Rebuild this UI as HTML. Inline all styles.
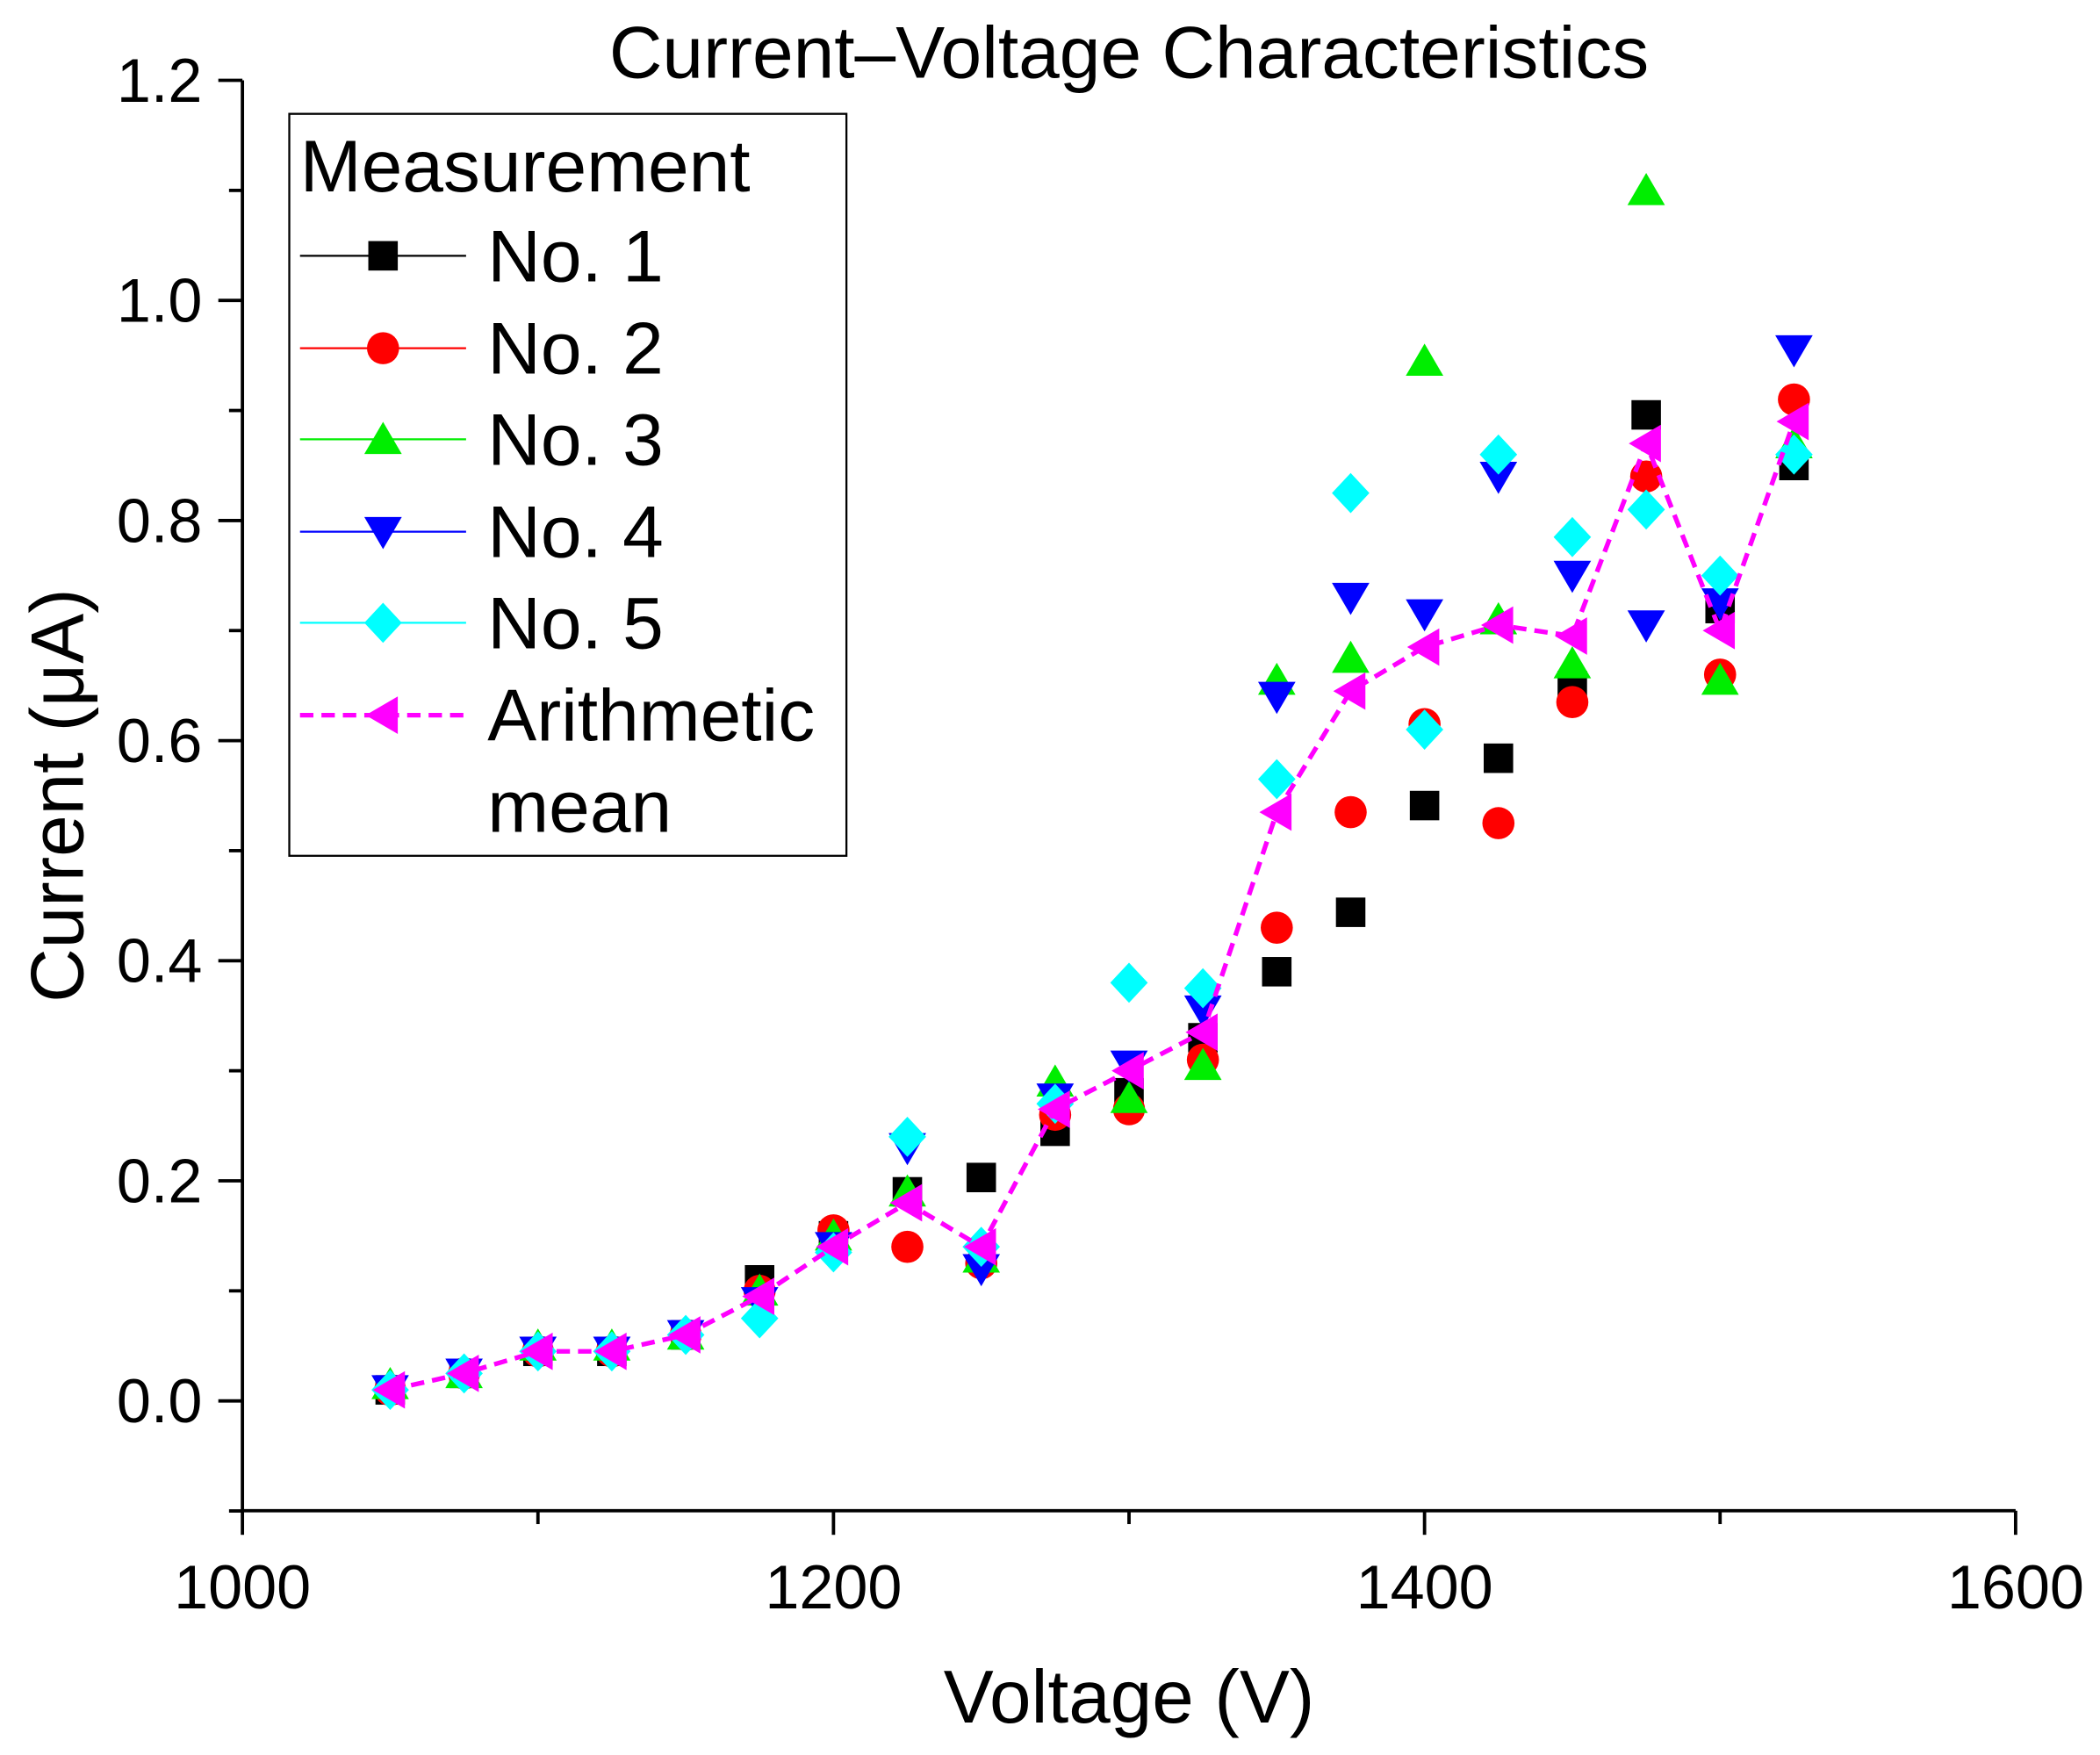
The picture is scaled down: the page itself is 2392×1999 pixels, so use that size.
<!DOCTYPE html>
<html><head><meta charset="utf-8"><style>
html,body{margin:0;padding:0;background:#fff;}
svg{display:block;font-family:"Liberation Sans",sans-serif;}
</style></head><body>
<svg id="chart" width="2392" height="1999" viewBox="0 0 1568 1310.4" xmlns="http://www.w3.org/2000/svg">
<g id="axes"></g><g id="marks"></g><g id="legend"></g>
</svg>
<script>
const voltages=[1050,1075,1100,1125,1150,1175,1200,1225,1250,1275,1300,1325,1350,1375,1400,1425,1450,1475,1500,1525];
const no1=[0.01,0.025,0.045,0.045,0.06,0.11,0.15,0.19,0.203,0.245,0.28,0.33,0.39,0.444,0.541,0.584,0.65,0.896,0.72,0.85];
const no2=[0.01,0.025,0.045,0.045,0.06,0.1,0.155,0.14,0.125,0.26,0.265,0.31,0.43,0.535,0.615,0.525,0.635,0.84,0.66,0.91];
const no3=[0.015,0.025,0.05,0.05,0.06,0.1,0.15,0.19,0.13,0.29,0.275,0.305,0.655,0.675,0.945,0.71,0.67,1.1,0.655,0.87];
const no4=[0.01,0.025,0.045,0.045,0.06,0.09,0.14,0.23,0.12,0.275,0.305,0.355,0.64,0.73,0.715,0.84,0.75,0.705,0.725,0.955];
const no5=[0.01,0.025,0.045,0.045,0.06,0.075,0.135,0.24,0.14,0.27,0.38,0.375,0.565,0.825,0.61,0.86,0.785,0.81,0.75,0.86];
const meanVals=[0.01,0.025,0.045,0.045,0.06,0.095,0.14,0.18,0.14,0.265,0.3,0.335,0.535,0.645,0.685,0.705,0.695,0.87,0.7,0.89];
const xTicks=[1000,1200,1400,1600];
const yTicks=[0.0,0.2,0.4,0.6,0.8,1.0,1.2];

const NS="http://www.w3.org/2000/svg";
const X0=181,X1=1505,Y0=1046,Y12=60;
const xs=v=>X0+(v-1000)/600*(X1-X0);
const ys=v=>Y0-v/1.2*(Y0-Y12);
function mk(tag,attrs,parent){const e=document.createElementNS(NS,tag);for(const k in attrs)e.setAttribute(k,attrs[k]);parent.appendChild(e);return e;}
const axes=document.getElementById('axes'),marks=document.getElementById('marks'),legend=document.getElementById('legend');

const ya=mk('line',{x1:X0,y1:60,x2:X0,y2:1128,stroke:'#000','stroke-width':2.5},axes);

const xa=mk('line',{x1:X0,y1:1128,x2:X1,y2:1128,stroke:'#000','stroke-width':2.5},axes);

for(let v=-0.1;v<=1.2001;v+=0.1){
  const major=Math.abs(Math.round(v*10)%2)===0;
  mk('line',{x1:X0-(major?18:10),y1:ys(v),x2:X0,y2:ys(v),stroke:'#000','stroke-width':2.5},axes);
}
yTicks.forEach(v=>{
  const t=mk('text',{x:X0-30,y:ys(v)+16,'text-anchor':'end','font-size':46},axes);
  t.textContent=v.toFixed(1);
  
});
for(let v=1000;v<=1600;v+=100){
  const major=v%200===0;
  mk('line',{x1:xs(v),y1:1128,x2:xs(v),y2:1128+(major?18:10),stroke:'#000','stroke-width':2.5},axes);
}
xTicks.forEach(v=>{
  const t=mk('text',{x:xs(v),y:1201,'text-anchor':'middle','font-size':46},axes);
  t.textContent=v;
  
});
let tt=mk('text',{x:843,y:1286,'text-anchor':'middle','font-size':56},axes);tt.textContent='Voltage (V)';

tt=mk('text',{x:62,y:594,'text-anchor':'middle','font-size':56,transform:'rotate(-90 62 594)'},axes);tt.textContent='Current (μA)';

tt=mk('text',{x:843,y:58,'text-anchor':'middle','font-size':55},axes);tt.textContent='Current–Voltage Characteristics';


function marker(type,cx,cy,color,parent){
  const s=11;
  if(type==='square')return mk('rect',{x:cx-s,y:cy-s,width:2*s,height:2*s,fill:color},parent);
  if(type==='circle')return mk('circle',{cx:cx,cy:cy,r:s+1,fill:color},parent);
  if(type==='up')return mk('polygon',{points:`${cx},${cy-s-2} ${cx+s+3},${cy+s} ${cx-s-3},${cy+s}`,fill:color},parent);
  if(type==='down')return mk('polygon',{points:`${cx},${cy+s+2} ${cx+s+3},${cy-s} ${cx-s-3},${cy-s}`,fill:color},parent);
  if(type==='diamond')return mk('polygon',{points:`${cx},${cy-s-4} ${cx+s+3},${cy} ${cx},${cy+s+4} ${cx-s-3},${cy}`,fill:color},parent);
  if(type==='left')return mk('polygon',{points:`${cx-s-2},${cy} ${cx+s},${cy-s-3} ${cx+s},${cy+s+3}`,fill:color},parent);
}
const series=[
 {name:'No. 1',vals:no1,type:'square',color:'#000000',key:'no-1'},
 {name:'No. 2',vals:no2,type:'circle',color:'#ff0000',key:'no-2'},
 {name:'No. 3',vals:no3,type:'up',color:'#00ee00',key:'no-3'},
 {name:'No. 4',vals:no4,type:'down',color:'#0000ff',key:'no-4'},
 {name:'No. 5',vals:no5,type:'diamond',color:'#00ffff',key:'no-5'}
];
series.forEach(s=>{
  const g=mk('g',{},marks);
  
  s.vals.forEach((v,i)=>{
    const m=marker(s.type,xs(voltages[i]),ys(v),s.color,g);
    
    
  });
});
const mg=mk('g',{},marks);

const ml=mk('polyline',{points:meanVals.map((v,i)=>xs(voltages[i])+','+ys(v)).join(' '),fill:'none',stroke:'#ff00ff','stroke-width':3.5,'stroke-dasharray':'10,6'},mg);

meanVals.forEach((v,i)=>{
  const m=marker('left',xs(voltages[i]),ys(v),'#ff00ff',mg);
  
  
});

const lb=mk('rect',{x:216,y:85,width:416,height:554,fill:'#fff',stroke:'#000','stroke-width':1.5},legend);

let lt=mk('text',{x:224,y:143,'font-size':55},legend);lt.textContent='Measurement';

const ly=[191,260,328,397,465];
series.forEach((s,i)=>{
  const g=mk('g',{},legend);
  
  mk('line',{x1:224,y1:ly[i],x2:348,y2:ly[i],stroke:s.color,'stroke-width':1.5},g);
  marker(s.type,286,ly[i],s.color,g);
  const t=mk('text',{x:364,y:ly[i]+19,'font-size':55},g);t.textContent=s.name;
});
const lg=mk('g',{},legend);

mk('line',{x1:224,y1:534,x2:348,y2:534,stroke:'#ff00ff','stroke-width':3.5,'stroke-dasharray':'10,6'},lg);
marker('left',286,534,'#ff00ff',lg);
let t1=mk('text',{x:364,y:553,'font-size':55},lg);t1.textContent='Arithmetic';
let t2=mk('text',{x:364,y:621,'font-size':55},lg);t2.textContent='mean';
</script>
</body></html>
